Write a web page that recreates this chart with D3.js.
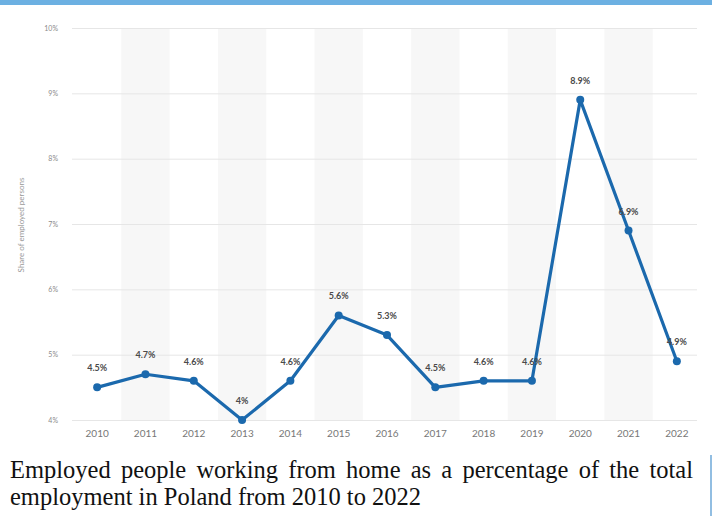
<!DOCTYPE html>
<html>
<head>
<meta charset="utf-8">
<script src="https://cdn.jsdelivr.net/npm/d3@7"></script>
<style>
  html, body { margin: 0; padding: 0; background: #ffffff; }
  svg { display: block; }
</style>
</head>
<body>
<svg id="chart" width="712" height="516"></svg>
<script>
// Share of employed persons working from home, Poland
const years = ["2010","2011","2012","2013","2014","2015","2016","2017","2018","2019","2020","2021","2022"];
const shares = [4.5, 4.7, 4.6, 4.0, 4.6, 5.6, 5.3, 4.5, 4.6, 4.6, 8.9, 6.9, 4.9];
const valueLabels = ["4.5%","4.7%","4.6%","4%","4.6%","5.6%","5.3%","4.5%","4.6%","4.6%","8.9%","6.9%","4.9%"];
const yTicks = [4, 5, 6, 7, 8, 9, 10];
const yTitle = "Share of employed persons";
const captionLines = [
  "Employed people working from home as a percentage of the total",
  "employment in Poland from 2010 to 2022"
];

const svg = d3.select("#chart");
const W = 712, H = 516;

// top accent bar
svg.append("rect").attr("x", 0).attr("y", 0).attr("width", W).attr("height", 5).attr("fill", "#6cb0e2");

const x = d3.scaleBand().domain(years).range([73, 701]).padding(0);
const y = d3.scaleLinear().domain([4, 10]).range([420, 28]);
const cx = d => x(d) + x.bandwidth() / 2;

// alternating column shading
svg.append("g").selectAll("rect")
  .data(years.filter((d, i) => i % 2 === 1))
  .join("rect")
  .attr("x", d => x(d))
  .attr("y", y(10))
  .attr("width", x.bandwidth())
  .attr("height", y(4) - y(10))
  .attr("fill", "#f7f7f7");

// horizontal gridlines + y tick labels
const yAxis = d3.axisLeft(y).tickValues(yTicks).tickSize(-(697 - 72)).tickPadding(14)
  .tickFormat(d => d + "%");
const gy = svg.append("g").attr("transform", "translate(72,0)").call(yAxis);
gy.select(".domain").remove();
gy.selectAll(".tick line").attr("stroke", "#e6e6e6").attr("stroke-width", 1);
gy.selectAll(".tick text")
  .attr("fill", "#8a8a8a")
  .attr("font-family", "Lato, 'Open Sans', sans-serif")
  .attr("font-size", 7);

// x axis labels
const xAxis = d3.axisBottom(x).tickSize(0).tickPadding(8);
const gx = svg.append("g").attr("transform", "translate(0,422)").call(xAxis);
gx.select(".domain").remove();
gx.selectAll(".tick text")
  .attr("fill", "#777")
  .attr("font-family", "Lato, 'Open Sans', sans-serif")
  .attr("font-size", 10);

// y axis title
svg.append("text")
  .attr("transform", "translate(24,225) rotate(-90)")
  .attr("text-anchor", "middle")
  .attr("fill", "#9a9a9a")
  .attr("font-family", "Lato, 'Open Sans', sans-serif")
  .attr("font-size", 8)
  .text(yTitle);

// series line
const pts = years.map((d, i) => ({ year: d, v: shares[i], label: valueLabels[i] }));
const line = d3.line().x(d => cx(d.year)).y(d => y(d.v));
svg.append("path")
  .datum(pts)
  .attr("d", line)
  .attr("fill", "none")
  .attr("stroke", "#1b69ad")
  .attr("stroke-width", 3.2)
  .attr("stroke-linejoin", "round");

svg.append("g").selectAll("circle")
  .data(pts)
  .join("circle")
  .attr("cx", d => cx(d.year))
  .attr("cy", d => y(d.v))
  .attr("r", 4)
  .attr("fill", "#1b69ad");

// value labels
svg.append("g").selectAll("text")
  .data(pts)
  .join("text")
  .attr("x", d => cx(d.year))
  .attr("y", d => y(d.v) - 16)
  .attr("text-anchor", "middle")
  .attr("fill", "#4a4a4a")
  .attr("font-family", "Lato, 'Open Sans', sans-serif")
  .attr("font-weight", "bold")
  .attr("font-size", 9)
  .text(d => d.label);

// caption, first line justified
const capFont = "'Liberation Serif', 'Times New Roman', serif";
const capSize = 24.5;
const left = 10, right = 693;
const words = captionLines[0].split(" ");
const g1 = svg.append("g");
const wt = words.map(w => g1.append("text")
  .attr("font-family", capFont).attr("font-size", capSize).attr("fill", "#111")
  .attr("y", 478).text(w));
const widths = wt.map(t => t.node().getComputedTextLength());
const gap = (right - left - d3.sum(widths)) / (words.length - 1);
let pos = left;
wt.forEach((t, i) => { t.attr("x", pos); pos += widths[i] + gap; });

svg.append("text")
  .attr("x", left).attr("y", 505)
  .attr("font-family", capFont).attr("font-size", capSize).attr("fill", "#111")
  .text(captionLines[1]);

// right edge rule beside the caption
svg.append("line").attr("x1", 711).attr("x2", 711).attr("y1", 455).attr("y2", 516)
  .attr("stroke", "#6ea8d8").attr("stroke-width", 1.5);
</script>
</body>
</html>
